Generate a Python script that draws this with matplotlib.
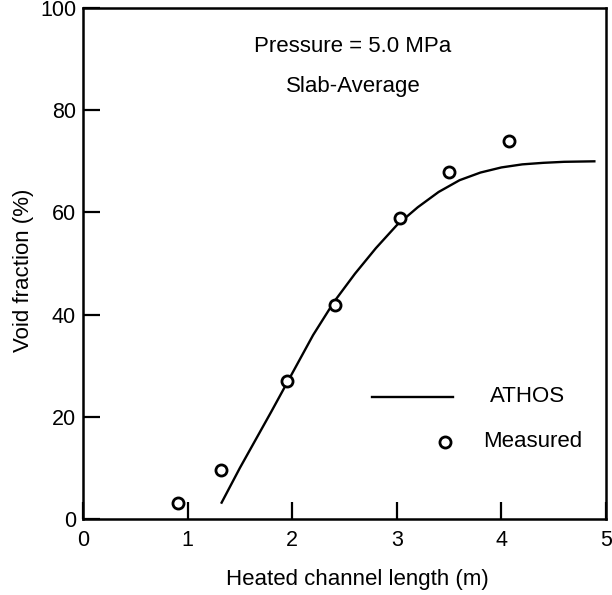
import matplotlib
matplotlib.use("Agg")
import matplotlib.pyplot as plt

# Data
measured_x = [0.91, 1.32, 1.95, 2.41, 3.03, 3.50, 4.07]
measured_y = [3.1, 9.6, 27.0, 41.8, 59.0, 68.0, 74.0]

athos_x = [1.32, 1.5, 1.8, 2.0, 2.2, 2.4, 2.6, 2.8, 3.0, 3.2, 3.4, 3.6, 3.8, 4.0, 4.2, 4.4, 4.6, 4.9]
athos_y = [3.0, 10.0, 21.0, 28.5, 36.0, 42.5, 48.0, 53.0, 57.5, 61.0, 64.0, 66.3, 67.8, 68.8, 69.4, 69.7, 69.9, 70.0]

x_ticks = [0, 1, 2, 3, 4, 5]
y_ticks = [0, 20, 40, 60, 80, 100]

plt.rcParams['font.family'] = ['Liberation Sans', 'DejaVu Sans']

FS = 16

fig = plt.figure(figsize=(6.12, 5.95), dpi=100)
ax = fig.add_axes([83/612, 1 - 519/595, (606-83)/612, (519-8)/595])

ax.plot(athos_x, athos_y, color='black', lw=1.7, solid_capstyle='butt', solid_joinstyle='round')
ax.plot(measured_x, measured_y, 'o', ms=8, mfc='white', mec='black', mew=2.0)

ax.set_xlim(0, 5)
ax.set_ylim(0, 100)
ax.set_xticks(x_ticks)
ax.set_yticks(y_ticks)
ax.tick_params(direction='in', length=12, width=1.6, labelsize=15.5,
               top=False, right=False)
ax.tick_params(axis='x', pad=8)
ax.tick_params(axis='y', pad=5)
for s in ax.spines.values():
    s.set_linewidth(1.8)

ax.set_xlabel('Heated channel length (m)', fontsize=FS)
ax.set_ylabel('Void fraction (%)', fontsize=FS)
ax.xaxis.set_label_coords((357-83)/(606-83), -(579-519)/(519-8), transform=ax.transAxes)
ax.yaxis.set_label_coords(-(83-24)/(606-83), (519-270)/(519-8), transform=ax.transAxes)
ax.xaxis.label.set_va('center')
ax.yaxis.label.set_va('center')

ax.text(2.58, 92.4, 'Pressure = 5.0 MPa', ha='center', va='center', fontsize=FS)
ax.text(2.58, 84.6, 'Slab-Average', ha='center', va='center', fontsize=FS)

# Legend drawn manually
ax.plot([2.76, 3.54], [23.9, 23.9], color='black', lw=1.7)
ax.text(4.25, 23.9, 'ATHOS', ha='center', va='center', fontsize=FS)
ax.plot([3.46], [15.1], 'o', ms=8, mfc='white', mec='black', mew=2.0)
ax.text(4.30, 15.1, 'Measured', ha='center', va='center', fontsize=FS)

fig.savefig('out.png', dpi=100)
